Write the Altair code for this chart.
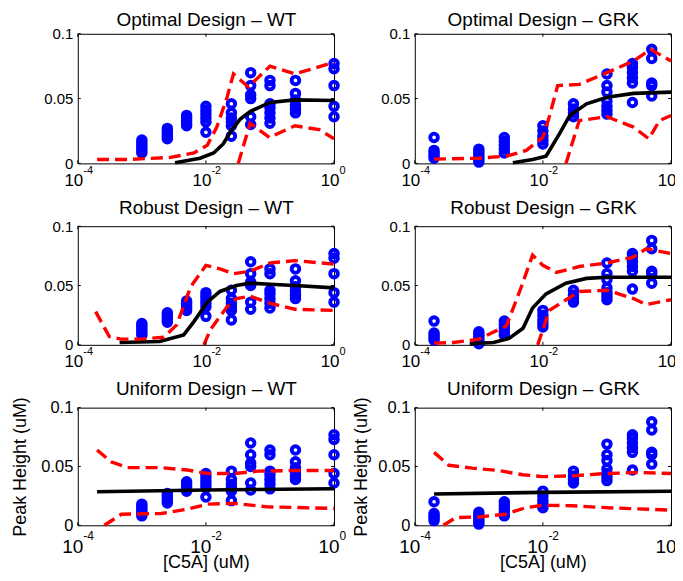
import altair as alt
import pandas as pd

# ---------------- measured data (blue circles) ----------------
WT_X = [1e-3, 2.5e-3, 5e-3, 1e-2, 2.5e-2, 5e-2, 1e-1, 2.5e-1, 1.0]
WT_Y = [
    [0.008, 0.010, 0.012, 0.014, 0.016, 0.018],
    [0.019, 0.021, 0.023, 0.025, 0.027],
    [0.029, 0.031, 0.033, 0.035, 0.037],
    [0.024, 0.032, 0.035, 0.038, 0.041, 0.044],
    [0.021, 0.029, 0.032, 0.035, 0.039, 0.046],
    [0.030, 0.036, 0.050, 0.053, 0.060, 0.070],
    [0.031, 0.035, 0.039, 0.043, 0.046, 0.060, 0.064],
    [0.039, 0.042, 0.045, 0.049, 0.054, 0.064],
    [0.036, 0.044, 0.060, 0.073, 0.077],
]
GRK_X = [2e-4, 1e-3, 2.5e-3, 1e-2, 3e-2, 1e-1, 2.5e-1, 5e-1]
GRK_Y = [
    [0.004, 0.006, 0.008, 0.010, 0.020],
    [0.001, 0.003, 0.005, 0.007, 0.009, 0.011],
    [0.008, 0.011, 0.014, 0.017, 0.020],
    [0.015, 0.018, 0.021, 0.025, 0.029],
    [0.036, 0.039, 0.042, 0.046],
    [0.038, 0.041, 0.044, 0.048, 0.055, 0.060, 0.069],
    [0.047, 0.062, 0.066, 0.070, 0.074, 0.077],
    [0.052, 0.060, 0.062, 0.081, 0.088],
]

# ---------------- Optimal Design - WT ----------------
OPT_WT_FIT_X = [3.3e-3, 8.1e-3, 1.32e-2, 1.86e-2, 2.4e-2, 3.4e-2, 4.9e-2, 0.1, 0.245, 1.0]
OPT_WT_FIT_Y = [0.0005, 0.004, 0.008, 0.015, 0.024, 0.034, 0.040, 0.047, 0.049, 0.0485]
OPT_WT_UP_X = [2.0e-4, 6.0e-4, 2.8e-3, 6.5e-3, 1.05e-2, 1.48e-2, 2.14e-2, 2.69e-2, 4.6e-2, 0.1, 0.245, 1.0]
OPT_WT_UP_Y = [0.003, 0.003, 0.0046, 0.008, 0.014, 0.028, 0.051, 0.069, 0.059, 0.075, 0.069, 0.078]
OPT_WT_LO_X = [3.2e-2, 4.9e-2, 0.098, 0.245, 0.59, 1.0]
OPT_WT_LO_Y = [0.0, 0.031, 0.020, 0.029, 0.026, 0.019]

# ---------------- Optimal Design - GRK ----------------
OPT_GRK_FIT_X = [3.4e-3, 6.9e-3, 1.12e-2, 1.82e-2, 2.63e-2, 4.8e-2, 0.1, 0.26, 1.0]
OPT_GRK_FIT_Y = [0.0005, 0.003, 0.0056, 0.023, 0.037, 0.046, 0.051, 0.054, 0.055]
OPT_GRK_UP_X = [2.0e-4, 1.0e-3, 2.7e-3, 5.5e-3, 1e-2, 1.26e-2, 1.70e-2, 3.7e-2, 0.1, 0.26, 0.48, 1.0]
OPT_GRK_UP_Y = [0.0033, 0.004, 0.0056, 0.010, 0.020, 0.036, 0.060, 0.061, 0.070, 0.079, 0.088, 0.079]
OPT_GRK_LO_X = [2.29e-2, 3.7e-2, 0.1, 0.26, 0.45, 0.66, 1.0]
OPT_GRK_LO_Y = [0.0, 0.033, 0.036, 0.028, 0.019, 0.033, 0.037]

# ---------------- Robust Design - WT ----------------
ROB_WT_FIT_X = [4.5e-4, 1.9e-3, 4.5e-3, 6.5e-3, 1.05e-2, 1.66e-2, 3.0e-2, 4.9e-2, 0.1, 0.245, 1.0]
ROB_WT_FIT_Y = [0.002, 0.0028, 0.0084, 0.0196, 0.036, 0.045, 0.050, 0.052, 0.051, 0.050, 0.048]
ROB_WT_UP_X = [1.9e-4, 3.1e-4, 4.7e-4, 9.5e-4, 2.2e-3, 3.5e-3, 5.8e-3, 1e-2, 1.66e-2, 2.69e-2, 4.9e-2, 0.1, 0.245, 1.0]
ROB_WT_UP_Y = [0.028, 0.007, 0.0048, 0.0048, 0.0064, 0.0168, 0.049, 0.067, 0.064, 0.060, 0.062, 0.069, 0.071, 0.068]
ROB_WT_LO_X = [9.3e-3, 1.17e-2, 2.14e-2, 3.0e-2, 4.9e-2, 0.1, 0.245, 1.0]
ROB_WT_LO_Y = [0.0, 0.0126, 0.032, 0.039, 0.041, 0.035, 0.030, 0.029]

# ---------------- Robust Design - GRK ----------------
ROB_GRK_FIT_X = [7.2e-4, 1.7e-3, 3.0e-3, 4.9e-3, 6.9e-3, 1.12e-2, 2.29e-2, 4.8e-2, 0.1, 1.0]
ROB_GRK_FIT_Y = [0.001, 0.002, 0.0056, 0.014, 0.031, 0.043, 0.052, 0.056, 0.057, 0.057]
ROB_GRK_UP_X = [2.0e-4, 4.0e-4, 1.0e-3, 2.7e-3, 4.4e-3, 6.9e-3, 1e-2, 1.62e-2, 3.7e-2, 0.1, 0.26, 0.41, 1.0]
ROB_GRK_UP_Y = [0.0014, 0.002, 0.0048, 0.016, 0.046, 0.0756, 0.067, 0.061, 0.066, 0.069, 0.074, 0.081, 0.077]
ROB_GRK_LO_X = [8.3e-3, 1.26e-2, 3.7e-2, 0.1, 0.26, 0.41, 1.0]
ROB_GRK_LO_Y = [0.0, 0.029, 0.045, 0.046, 0.039, 0.034, 0.038]

# ---------------- Uniform Design - WT ----------------
UNI_WT_FIT_X = [2.0e-4, 1e-2, 1.0]
UNI_WT_FIT_Y = [0.0285, 0.030, 0.031]
UNI_WT_UP_X = [2.0e-4, 3.3e-4, 6.0e-4, 2.0e-3, 5.1e-3, 1.07e-2, 2.75e-2, 6.5e-2, 0.24, 1.0]
UNI_WT_UP_Y = [0.064, 0.054, 0.049, 0.049, 0.047, 0.044, 0.044, 0.046, 0.0466, 0.0466]
UNI_WT_LO_X = [2.6e-4, 4.8e-4, 2.0e-3, 5.1e-3, 1.07e-2, 2.75e-2, 9.1e-2, 1.0]
UNI_WT_LO_Y = [0.0, 0.0094, 0.010, 0.0137, 0.018, 0.0186, 0.0157, 0.0143]

# ---------------- Uniform Design - GRK ----------------
UNI_GRK_FIT_X = [2.0e-4, 1e-2, 1.0]
UNI_GRK_FIT_Y = [0.0266, 0.028, 0.0289]
UNI_GRK_UP_X = [2.0e-4, 3.4e-4, 7.9e-4, 2.0e-3, 4.8e-3, 1e-2, 2.88e-2, 9.5e-2, 0.32, 1.0]
UNI_GRK_UP_Y = [0.062, 0.051, 0.0486, 0.0466, 0.043, 0.0414, 0.042, 0.044, 0.0449, 0.044]
UNI_GRK_LO_X = [2.8e-4, 4.4e-4, 1.0e-3, 2.6e-3, 5.4e-3, 1e-2, 2.88e-2, 9.5e-2, 1.0]
UNI_GRK_LO_Y = [0.0, 0.0066, 0.0071, 0.0094, 0.015, 0.017, 0.0166, 0.015, 0.0129]

TITLES = ["Optimal Design \u2013 WT", "Optimal Design \u2013 GRK",
          "Robust Design \u2013 WT", "Robust Design \u2013 GRK",
          "Uniform Design \u2013 WT", "Uniform Design \u2013 GRK"]
X_TICKS = [1e-4, 1e-2, 1.0]
Y_TICKS = [0, 0.05, 0.1]
X_TITLE = "[C5A] (uM)"
Y_TITLE = "Peak Height (uM)"

# ---------------- styling ----------------
FONT = "Liberation Sans"
BLUE = "#0000FF"
RED = "#FF0000"
W = 257
ROW_H = [130, 119, 118]
TITLE_Y = [-8, -12.5, -13]
TICK = 3

xscale = alt.Scale(type="log", domain=[1e-4, 1.0])
yscale = alt.Scale(domain=[0, 0.1], nice=False, zero=False)


def panel(title, dx, dy, fx, fy, ux, uy, lx, ly, row, col):
    h = ROW_H[row]
    bottom = row == 2
    pts = pd.DataFrame([(x, y) for x, ys in zip(dx, dy) for y in ys], columns=["x", "y"])
    fit = pd.DataFrame({"x": fx, "y": fy})
    up = pd.DataFrame({"x": ux, "y": uy})
    lo = pd.DataFrame({"x": lx, "y": ly})
    xt = pd.DataFrame({"x": X_TICKS})
    yt = pd.DataFrame({"y": Y_TICKS})

    base_fs = 19 if bottom else 17
    exp_fs = 12 if bottom else 11
    base_pad = 27 if bottom else 22
    exp_pad = 14.5 if bottom else 10
    ylab_fs = 16.5 if bottom else 15

    main_axis = alt.Axis(orient="bottom", values=X_TICKS, labelExpr="'10'",
                         labelFont=FONT, labelFontSize=base_fs, labelColor="black",
                         labelAlign="right", labelOffset=5, labelBaseline="alphabetic",
                         labelPadding=base_pad, labelFlush=False, labelOverlap=False,
                         labelBound=False, tickSize=0, domain=False, grid=False,
                         titleFont=FONT, titleFontSize=18, titleFontWeight="normal",
                         titleColor="black", titleBaseline="alphabetic", titleY=42,
                         titleX=W / 2, titleAlign="center")
    exp_axis = alt.Axis(orient="bottom", values=X_TICKS,
                        labelExpr="datum.value < 0.001 ? '-4' : (datum.value < 0.5 ? '-2' : '0')",
                        labelFont=FONT, labelFontSize=exp_fs, labelColor="black",
                        labelAlign="left", labelOffset=5, labelBaseline="alphabetic",
                        labelPadding=exp_pad, labelFlush=False, labelOverlap=False,
                        labelBound=False, tickSize=0, domain=False, grid=False)
    top_axis = alt.Axis(orient="top", values=X_TICKS, labels=False, ticks=False,
                        domain=False, grid=False,
                        titleFont=FONT, titleFontSize=19, titleFontWeight="normal",
                        titleColor="black", titleBaseline="alphabetic",
                        titleY=TITLE_Y[row], titleX=W / 2, titleAlign="center")
    y_axis = alt.Axis(orient="left", values=Y_TICKS, format="~g",
                      labelFont=FONT, labelFontSize=ylab_fs, labelColor="black",
                      labelPadding=5, labelFlush=False, labelOverlap=False,
                      tickSize=0, domain=False, grid=False,
                      titleFont=FONT, titleFontSize=18, titleFontWeight="normal",
                      titleColor="black", titleAngle=270, titleBaseline="alphabetic",
                      titleX=(-52 if col == 0 else -48), titleY=h / 2, titleAlign="center")

    x_title = X_TITLE if bottom else None
    y_title = Y_TITLE if bottom else None

    l_pts = alt.Chart(pts).mark_point(shape="circle", filled=False, color=BLUE,
                                      size=58, strokeWidth=3.9, opacity=1).encode(
        x=alt.X("x:Q", scale=xscale, axis=main_axis, title=x_title),
        y=alt.Y("y:Q", scale=yscale, axis=y_axis, title=y_title),
    )
    l_fit = alt.Chart(fit).mark_line(color="black", strokeWidth=3.6).encode(
        x=alt.X("x:Q", scale=xscale, axis=exp_axis, title=None),
        y=alt.Y("y:Q", scale=yscale, axis=None),
    )
    l_up = alt.Chart(up).mark_line(color=RED, strokeWidth=3.4, strokeDash=[12, 6]).encode(
        x=alt.X("x:Q", scale=xscale, axis=None),
        y=alt.Y("y:Q", scale=yscale, axis=None),
    )
    l_lo = alt.Chart(lo).mark_line(color=RED, strokeWidth=3.4, strokeDash=[12, 6]).encode(
        x=alt.X("x:Q", scale=xscale, axis=None),
        y=alt.Y("y:Q", scale=yscale, axis=None),
    )
    rule = dict(color="black", strokeWidth=1)
    t_top = alt.Chart(xt).mark_rule(**rule).encode(
        x=alt.X("x:Q", scale=xscale, axis=top_axis, title=title),
        y=alt.value(0), y2=alt.value(TICK))
    t_bot = alt.Chart(xt).mark_rule(**rule).encode(
        x=alt.X("x:Q", scale=xscale, axis=None), y=alt.value(h), y2=alt.value(h - TICK))
    t_left = alt.Chart(yt).mark_rule(**rule).encode(
        y=alt.Y("y:Q", scale=yscale, axis=None), x=alt.value(0), x2=alt.value(TICK))
    t_right = alt.Chart(yt).mark_rule(**rule).encode(
        y=alt.Y("y:Q", scale=yscale, axis=None), x=alt.value(W), x2=alt.value(W - TICK))

    return alt.layer(l_pts, l_fit, l_up, l_lo, t_top, t_bot, t_left, t_right).resolve_axis(
        x="independent", y="independent"
    ).properties(width=W, height=h)


specs = [
    (OPT_WT_FIT_X, OPT_WT_FIT_Y, OPT_WT_UP_X, OPT_WT_UP_Y, OPT_WT_LO_X, OPT_WT_LO_Y),
    (OPT_GRK_FIT_X, OPT_GRK_FIT_Y, OPT_GRK_UP_X, OPT_GRK_UP_Y, OPT_GRK_LO_X, OPT_GRK_LO_Y),
    (ROB_WT_FIT_X, ROB_WT_FIT_Y, ROB_WT_UP_X, ROB_WT_UP_Y, ROB_WT_LO_X, ROB_WT_LO_Y),
    (ROB_GRK_FIT_X, ROB_GRK_FIT_Y, ROB_GRK_UP_X, ROB_GRK_UP_Y, ROB_GRK_LO_X, ROB_GRK_LO_Y),
    (UNI_WT_FIT_X, UNI_WT_FIT_Y, UNI_WT_UP_X, UNI_WT_UP_Y, UNI_WT_LO_X, UNI_WT_LO_Y),
    (UNI_GRK_FIT_X, UNI_GRK_FIT_Y, UNI_GRK_UP_X, UNI_GRK_UP_Y, UNI_GRK_LO_X, UNI_GRK_LO_Y),
]

panels = []
for i, (fx, fy, ux, uy, lx, ly) in enumerate(specs):
    row, col = divmod(i, 2)
    dx, dy = (WT_X, WT_Y) if col == 0 else (GRK_X, GRK_Y)
    panels.append(panel(TITLES[i], dx, dy, fx, fy, ux, uy, lx, ly, row, col))

chart = alt.concat(
    *panels, columns=2, spacing={"row": 63, "column": 81}, bounds="flush", align="each"
).properties(
    padding={"left": 3, "top": 1, "right": -9, "bottom": 0}
).configure_view(stroke="black", strokeWidth=1)

chart.save("out.html", embed_options={"renderer": "svg", "actions": False})
